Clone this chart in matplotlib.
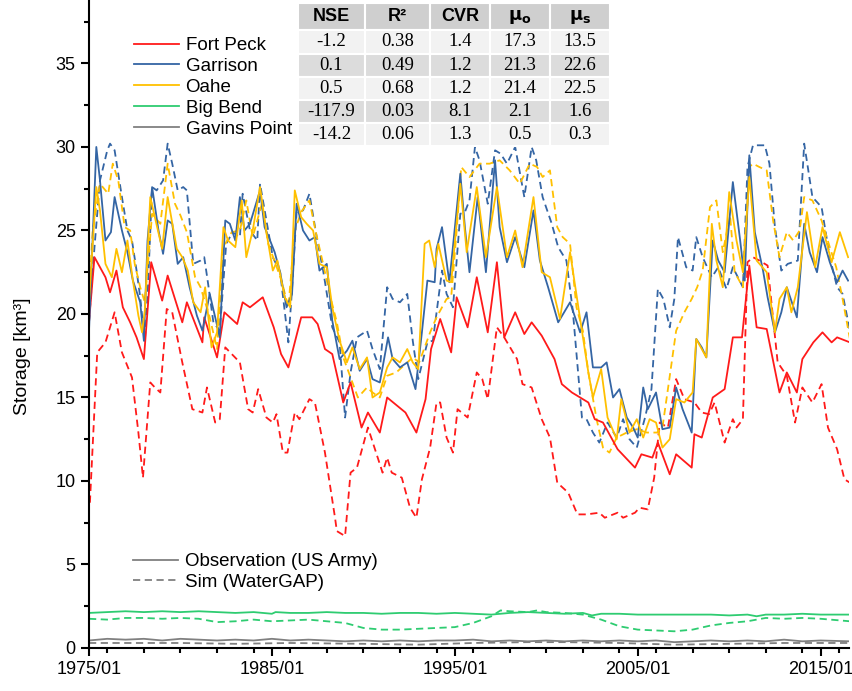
import matplotlib
matplotlib.use('Agg')
import matplotlib.pyplot as plt
from matplotlib.lines import Line2D
from matplotlib.patches import Rectangle
from matplotlib.ticker import MultipleLocator, FixedLocator

plt.rcParams['font.family'] = ['Liberation Sans', 'DejaVu Sans']

# (decimal year, storage km3)
fort_peck_obs = [(1975.0, 19.5), (1975.3, 23.4), (1975.9, 22.2), (1976.15, 21.3), (1976.5, 22.6), (1976.85, 20.4),
                 (1977.25, 19.5), (1977.6, 18.6), (1978.0, 17.3), (1978.4, 23.1), (1979.0, 20.8), (1979.3, 22.3),
                 (1980.1, 19.5), (1980.35, 20.7), (1981.2, 18.3), (1981.3, 19.8), (1982.0, 17.4), (1982.4, 20.1),
                 (1983.1, 19.4), (1983.4, 20.7), (1983.8, 20.4), (1984.5, 21.0), (1985.1, 19.2), (1985.5, 17.6),
                 (1985.9, 16.8), (1986.6, 19.8), (1987.2, 19.8), (1987.5, 19.4), (1987.9, 17.9), (1988.3, 17.6),
                 (1988.9, 14.7), (1989.3, 15.9), (1989.9, 13.2), (1990.25, 14.1), (1990.9, 12.9), (1991.3, 15.0),
                 (1992.3, 14.1), (1992.9, 12.9), (1993.4, 14.9), (1993.7, 17.9), (1994.2, 19.7), (1994.8, 17.7),
                 (1995.1, 21.0), (1995.7, 19.2), (1996.2, 22.2), (1996.8, 18.9), (1997.3, 23.1), (1997.7, 18.6),
                 (1998.3, 20.1), (1998.8, 18.8), (1999.2, 19.5), (1999.75, 18.7), (2000.45, 17.3), (2000.85, 15.8),
                 (2001.4, 15.3), (2002.3, 14.7), (2002.65, 13.7), (2003.1, 13.5), (2003.9, 11.9), (2004.85, 10.8),
                 (2005.2, 11.6), (2005.8, 11.4), (2006.1, 12.3), (2006.75, 10.4), (2007.1, 11.6), (2007.95, 10.8),
                 (2008.1, 12.8), (2008.5, 12.6), (2009.1, 15.0), (2009.75, 15.5), (2010.2, 18.6), (2010.7, 18.6),
                 (2011.1, 22.9), (2011.5, 19.2), (2012.05, 19.1), (2012.75, 15.3), (2013.15, 16.5), (2013.7, 15.3),
                 (2014.0, 17.3), (2014.6, 18.3), (2015.1, 18.9), (2015.6, 18.3), (2015.9, 18.6), (2016.6, 18.3)]
fort_peck_sim = [(1975.05, 8.7), (1975.45, 17.7), (1975.9, 18.3), (1976.4, 20.1), (1976.8, 17.7), (1977.35, 16.2),
                 (1977.7, 12.9), (1977.95, 10.2), (1978.35, 15.9), (1978.6, 15.6), (1978.9, 15.3), (1979.25, 20.3),
                 (1979.55, 20.1), (1980.1, 17.1), (1980.65, 14.3), (1981.2, 14.1), (1981.45, 15.6), (1981.9, 13.5),
                 (1982.15, 13.7), (1982.45, 18.0), (1983.25, 17.1), (1983.7, 14.3), (1983.95, 14.1), (1984.25, 15.5),
                 (1984.7, 13.8), (1985.05, 13.5), (1985.25, 14.0), (1985.6, 11.7), (1985.85, 11.7), (1986.25, 14.1),
                 (1986.5, 13.7), (1987.05, 14.9), (1987.35, 14.7), (1987.9, 11.7), (1988.45, 7.8), (1988.55, 7.0),
                 (1989.0, 6.7), (1989.3, 10.5), (1989.65, 10.8), (1990.25, 13.2), (1991.05, 10.5), (1991.3, 11.4),
                 (1991.55, 10.5), (1992.1, 10.2), (1992.55, 8.4), (1992.9, 7.8), (1993.2, 10.1), (1993.65, 12.0),
                 (1994.0, 14.7), (1994.2, 14.7), (1994.55, 12.6), (1994.9, 11.7), (1995.15, 14.3), (1995.7, 13.8),
                 (1996.2, 16.5), (1996.5, 16.1), (1996.8, 14.9), (1997.3, 19.2), (1997.7, 18.6), (1998.4, 17.3),
                 (1998.7, 15.8), (1999.2, 15.6), (1999.75, 13.7), (2000.2, 12.6), (2000.6, 9.9), (2001.2, 9.3),
                 (2001.7, 8.0), (2002.2, 8.0), (2002.9, 8.1), (2003.2, 7.8), (2003.9, 8.1), (2004.2, 7.8),
                 (2004.85, 8.1), (2005.1, 8.4), (2005.55, 8.3), (2005.9, 10.2), (2006.2, 13.5), (2006.65, 13.2),
                 (2007.1, 16.1), (2007.55, 14.9), (2008.1, 14.7), (2008.5, 14.1), (2008.9, 14.0), (2009.2, 14.7),
                 (2009.75, 12.3), (2010.2, 13.7), (2010.4, 13.2), (2010.75, 13.7), (2011.0, 23.1), (2011.3, 23.4),
                 (2011.65, 23.2), (2012.1, 22.9), (2012.65, 17.1), (2013.15, 16.3), (2013.6, 13.5), (2014.0, 15.6),
                 (2014.55, 14.7), (2015.05, 15.8), (2015.4, 13.2), (2015.9, 11.9), (2016.3, 10.1), (2016.6, 9.9)]

garrison_obs = [(1975.0, 19.0), (1975.4, 30.0), (1975.6, 28.0), (1975.9, 24.4), (1976.2, 24.9), (1976.4, 27.0),
                (1976.8, 25.0), (1977.1, 23.7), (1977.4, 22.0), (1977.8, 20.7), (1978.0, 18.4), (1978.2, 24.4),
                (1978.45, 27.6), (1978.8, 25.0), (1979.05, 23.6), (1979.3, 25.6), (1979.55, 25.4), (1979.85, 23.0),
                (1980.15, 23.4), (1980.5, 21.6), (1980.9, 19.9), (1981.2, 19.0), (1981.6, 21.2), (1981.9, 19.8),
                (1982.15, 18.6), (1982.45, 25.6), (1982.7, 25.4), (1983.0, 24.4), (1983.25, 27.0), (1983.5, 25.0),
                (1983.8, 25.4), (1984.35, 27.4), (1984.6, 25.2), (1984.9, 24.4), (1985.15, 23.7), (1985.45, 22.5),
                (1985.8, 20.4), (1986.1, 21.2), (1986.35, 26.6), (1986.7, 25.0), (1987.05, 24.4), (1987.35, 24.6),
                (1987.6, 22.6), (1988.0, 23.0), (1988.3, 19.6), (1988.7, 17.3), (1989.1, 17.8), (1989.4, 18.4),
                (1989.8, 16.6), (1990.2, 17.3), (1990.5, 16.1), (1990.9, 15.9), (1991.35, 18.6), (1991.6, 17.3),
                (1992.0, 16.8), (1992.4, 17.1), (1992.85, 15.5), (1993.2, 18.9), (1993.5, 22.0), (1993.9, 21.9),
                (1994.0, 23.9), (1994.3, 25.2), (1994.7, 21.9), (1995.3, 28.4), (1995.55, 25.2), (1995.8, 22.5),
                (1996.25, 27.0), (1996.7, 22.5), (1997.2, 29.2), (1997.45, 25.2), (1997.85, 23.1), (1998.3, 24.6),
                (1998.8, 22.8), (1999.3, 26.2), (1999.65, 23.2), (2000.1, 21.6), (2000.65, 19.5), (2001.3, 20.7),
                (2001.85, 18.9), (2002.2, 20.1), (2002.55, 16.8), (2003.0, 16.8), (2003.3, 17.1), (2003.65, 15.0),
                (2004.0, 15.5), (2004.4, 13.8), (2004.75, 13.2), (2005.0, 12.6), (2005.3, 15.6), (2005.55, 14.3),
                (2006.0, 15.3), (2006.35, 13.1), (2006.75, 13.2), (2007.1, 15.6), (2007.45, 14.3), (2007.95, 12.9),
                (2008.2, 18.5), (2008.5, 18.0), (2008.75, 17.4), (2009.1, 24.4), (2009.4, 23.2), (2009.75, 22.5),
                (2010.2, 27.9), (2010.6, 24.4), (2010.85, 22.0), (2011.1, 29.5), (2011.4, 24.9), (2011.85, 22.6),
                (2012.1, 21.0), (2012.5, 18.9), (2012.85, 20.1), (2013.15, 21.6), (2013.7, 19.8), (2014.1, 25.4),
                (2014.4, 23.7), (2014.8, 22.5), (2015.1, 24.6), (2015.5, 23.1), (2015.9, 21.9), (2016.2, 22.6),
                (2016.5, 22.0)]
garrison_sim = [(1975.0, 19.5), (1975.3, 24.0), (1975.6, 28.0), (1976.0, 29.8), (1976.15, 30.2), (1976.4, 29.8),
                (1976.8, 27.0), (1977.1, 25.0), (1977.35, 24.4), (1977.6, 22.6), (1977.8, 21.0), (1978.05, 18.3),
                (1978.2, 21.0), (1978.45, 27.6), (1978.7, 27.4), (1979.05, 28.0), (1979.3, 30.2), (1979.55, 29.0),
                (1979.85, 27.4), (1980.15, 27.6), (1980.35, 27.4), (1980.7, 23.0), (1981.1, 23.2), (1981.3, 23.4),
                (1981.5, 21.9), (1981.8, 19.5), (1982.15, 19.0), (1982.5, 24.2), (1982.85, 24.9), (1983.25, 24.6),
                (1983.4, 27.2), (1983.8, 25.0), (1984.2, 24.4), (1984.35, 27.8), (1984.7, 25.6), (1985.05, 23.4),
                (1985.45, 22.5), (1985.9, 18.3), (1986.1, 21.5), (1986.35, 26.1), (1986.7, 26.2), (1987.05, 27.2),
                (1987.45, 24.6), (1987.8, 22.6), (1988.3, 19.2), (1988.7, 18.3), (1989.0, 13.8), (1989.3, 16.5),
                (1989.65, 18.6), (1990.2, 19.0), (1990.5, 17.9), (1990.9, 16.7), (1991.3, 21.6), (1991.6, 20.9),
                (1992.0, 20.7), (1992.4, 21.2), (1992.7, 18.4), (1993.0, 16.1), (1993.5, 18.3), (1993.8, 18.4),
                (1994.3, 22.6), (1994.55, 21.2), (1994.9, 20.4), (1995.3, 26.0), (1995.55, 26.1), (1995.8, 26.8),
                (1996.1, 30.0), (1996.35, 29.2), (1996.8, 26.6), (1997.2, 29.8), (1997.5, 29.6), (1997.85, 29.0),
                (1998.3, 30.0), (1998.8, 27.0), (1999.2, 30.0), (1999.45, 29.2), (1999.8, 27.0), (2000.3, 25.4),
                (2000.65, 24.0), (2001.1, 23.2), (2001.45, 20.2), (2001.95, 13.8), (2002.2, 13.7), (2002.55, 12.9),
                (2002.9, 12.3), (2003.35, 13.5), (2003.85, 12.6), (2004.2, 13.7), (2004.55, 12.5), (2004.95, 12.0),
                (2005.4, 13.8), (2005.75, 15.5), (2006.1, 21.5), (2006.4, 20.9), (2006.75, 19.2), (2007.0, 20.9),
                (2007.2, 24.6), (2007.65, 22.8), (2008.0, 22.6), (2008.2, 24.6), (2008.55, 23.4), (2009.05, 22.2),
                (2009.4, 22.8), (2009.85, 21.5), (2010.2, 22.8), (2010.75, 21.6), (2011.0, 28.8), (2011.3, 30.1),
                (2011.95, 30.1), (2012.2, 29.0), (2012.5, 25.2), (2012.85, 22.6), (2013.2, 23.0), (2013.75, 23.2),
                (2014.1, 30.2), (2014.55, 27.0), (2015.05, 26.4), (2015.5, 23.4), (2015.9, 21.6), (2016.2, 21.2),
                (2016.6, 19.0)]

oahe_obs = [(1975.0, 20.7), (1975.4, 27.6), (1975.6, 26.2), (1975.9, 23.0), (1976.25, 22.2), (1976.5, 23.9),
            (1976.8, 22.5), (1977.1, 24.4), (1977.4, 22.0), (1977.7, 19.9), (1977.9, 18.9), (1978.05, 20.2),
            (1978.35, 27.0), (1978.6, 25.8), (1979.0, 23.9), (1979.3, 27.0), (1979.8, 23.9), (1980.1, 23.4),
            (1980.4, 22.6), (1980.7, 20.7), (1981.1, 20.1), (1981.35, 21.6), (1981.7, 18.0), (1982.0, 18.9),
            (1982.35, 25.2), (1982.6, 24.4), (1983.0, 24.0), (1983.35, 26.8), (1983.6, 23.4), (1983.95, 25.0),
            (1984.35, 27.6), (1984.7, 24.9), (1985.05, 22.6), (1985.3, 23.2), (1985.7, 21.0), (1986.0, 20.4),
            (1986.25, 27.4), (1986.6, 25.8), (1986.9, 25.4), (1987.25, 25.0), (1987.6, 23.0), (1988.0, 22.8),
            (1988.3, 20.4), (1988.7, 18.4), (1989.1, 17.1), (1989.4, 18.0), (1989.8, 16.7), (1990.2, 17.4),
            (1990.5, 15.0), (1990.9, 15.3), (1991.3, 16.8), (1991.6, 17.4), (1992.0, 17.1), (1992.4, 17.9),
            (1992.7, 17.1), (1993.0, 16.7), (1993.35, 24.2), (1993.6, 24.4), (1993.9, 22.8), (1994.1, 24.2),
            (1994.55, 22.0), (1994.8, 21.9), (1995.3, 27.8), (1995.65, 23.7), (1996.2, 27.6), (1996.7, 23.4),
            (1997.3, 27.6), (1997.85, 23.4), (1998.3, 25.0), (1998.7, 22.8), (1999.3, 27.0), (1999.75, 22.5),
            (2000.2, 22.2), (2000.75, 19.7), (2001.3, 23.7), (2001.85, 19.7), (2002.3, 16.5), (2002.55, 15.0),
            (2003.0, 16.7), (2003.35, 13.8), (2003.85, 12.5), (2004.1, 14.9), (2004.55, 12.9), (2004.95, 13.7),
            (2005.3, 12.6), (2005.65, 13.7), (2006.0, 13.5), (2006.35, 12.0), (2006.75, 12.5), (2007.1, 14.9),
            (2007.55, 14.7), (2008.0, 15.3), (2008.2, 18.5), (2008.75, 17.4), (2009.05, 25.4), (2009.3, 23.2),
            (2009.65, 21.6), (2010.0, 27.3), (2010.4, 24.4), (2010.75, 22.5), (2011.1, 28.2), (2011.5, 23.2),
            (2012.05, 22.5), (2012.5, 18.9), (2012.75, 20.9), (2013.15, 21.6), (2013.4, 20.1), (2013.75, 21.6),
            (2014.25, 26.1), (2014.7, 22.8), (2015.1, 25.2), (2015.6, 23.1), (2016.05, 24.9), (2016.5, 23.4)]
oahe_sim = [(1975.0, 21.0), (1975.2, 25.0), (1975.6, 27.8), (1976.05, 27.2), (1976.3, 29.0), (1976.6, 28.0),
            (1976.95, 25.2), (1977.25, 25.0), (1977.5, 23.0), (1977.8, 21.6), (1978.05, 20.7), (1978.45, 26.0),
            (1978.9, 25.4), (1979.3, 29.0), (1979.7, 26.6), (1980.0, 25.9), (1980.35, 24.9), (1980.8, 22.2),
            (1981.1, 21.6), (1981.6, 19.8), (1982.0, 17.9), (1982.35, 24.0), (1982.8, 24.9), (1983.25, 25.0),
            (1983.6, 26.8), (1983.95, 24.6), (1984.45, 26.6), (1984.8, 24.2), (1985.2, 23.0), (1985.55, 21.9),
            (1985.9, 20.4), (1986.25, 25.0), (1986.6, 26.1), (1987.05, 26.8), (1987.4, 24.9), (1987.8, 23.0),
            (1988.2, 21.0), (1988.55, 19.5), (1988.9, 17.4), (1989.4, 15.9), (1989.7, 15.0), (1990.2, 15.6),
            (1990.5, 15.3), (1990.9, 15.0), (1991.3, 16.3), (1991.8, 16.5), (1992.4, 17.1), (1992.7, 17.4),
            (1993.05, 17.1), (1993.65, 18.9), (1994.0, 19.8), (1994.55, 20.9), (1994.8, 21.0), (1995.1, 25.0),
            (1995.35, 28.8), (1995.8, 28.2), (1996.35, 29.0), (1996.9, 29.0), (1997.45, 29.2), (1998.0, 28.6),
            (1998.55, 27.8), (1999.1, 29.0), (1999.5, 28.8), (1999.8, 28.2), (2000.2, 28.6), (2000.6, 25.2),
            (2000.9, 24.6), (2001.3, 24.2), (2001.65, 20.4), (2002.0, 19.0), (2002.3, 16.5), (2002.75, 13.7),
            (2003.1, 12.0), (2003.45, 11.7), (2003.85, 12.6), (2004.4, 12.9), (2004.95, 13.1), (2005.5, 12.9),
            (2006.05, 12.9), (2006.35, 13.2), (2006.65, 15.5), (2007.1, 19.0), (2007.55, 20.1), (2007.95, 20.9),
            (2008.25, 21.6), (2008.55, 22.6), (2008.95, 26.4), (2009.3, 26.8), (2009.65, 23.7), (2010.05, 25.9),
            (2010.3, 22.5), (2010.75, 21.6), (2011.1, 28.8), (2011.3, 29.0), (2011.65, 28.8), (2012.05, 28.6),
            (2012.4, 25.6), (2012.75, 23.4), (2013.15, 24.9), (2013.5, 24.4), (2013.85, 25.0), (2014.1, 27.0),
            (2014.55, 26.8), (2015.05, 25.6), (2015.5, 24.0), (2015.85, 22.8), (2016.2, 20.9), (2016.6, 18.5)]

big_bend_obs = [(1975, 2.1), (1976, 2.15), (1977, 2.2), (1978, 2.15), (1979, 2.2), (1980, 2.15), (1981, 2.2),
                (1982, 2.15), (1983, 2.1), (1984, 2.15), (1985, 2.05), (1985.2, 2.15), (1986, 2.1), (1987, 2.1),
                (1988, 2.15), (1989, 2.1), (1990, 2.1), (1991, 2.05), (1992, 2.1), (1993, 2.1), (1994, 2.05),
                (1995, 2.1), (1996, 2.05), (1997, 2.0), (1998, 2.1), (1999, 2.15), (2000, 2.1), (2001, 2.05),
                (2002, 2.1), (2002.5, 1.95), (2003, 2.05), (2004, 2.05), (2005, 2.0), (2006, 2.0), (2007, 2.0),
                (2008, 2.0), (2009, 2.0), (2010, 1.95), (2011, 2.0), (2011.5, 1.9), (2012, 2.0), (2013, 2.0),
                (2014, 2.05), (2015, 2.0), (2016.6, 2.0)]
big_bend_sim = [(1975, 1.75), (1976, 1.7), (1977, 1.8), (1978, 1.8), (1979, 1.75), (1980, 1.8), (1981, 1.75),
                (1982, 1.55), (1983, 1.6), (1984, 1.7), (1985, 1.6), (1986, 1.65), (1987, 1.7), (1988, 1.6),
                (1989, 1.5), (1990, 1.2), (1991, 1.1), (1992, 1.1), (1993, 1.15), (1994, 1.2), (1995, 1.25),
                (1996, 1.5), (1997, 1.9), (1997.5, 2.25), (1998, 2.2), (1999, 2.15), (1999.5, 2.25), (2000, 2.15),
                (2001, 2.1), (2002, 2.0), (2003, 1.7), (2004, 1.3), (2005, 1.1), (2006, 1.05), (2007, 1.0),
                (2008, 1.1), (2009, 1.35), (2010, 1.5), (2011, 1.6), (2012, 1.8), (2013, 1.75), (2014, 1.8),
                (2015, 1.75), (2016.6, 1.6)]

gavins_obs = [(1975, 0.45), (1976, 0.55), (1977, 0.5), (1978, 0.55), (1979, 0.45), (1980, 0.55), (1981, 0.5),
              (1982, 0.45), (1983, 0.5), (1984, 0.45), (1985, 0.55), (1986, 0.45), (1987, 0.5), (1988, 0.45),
              (1989, 0.4), (1990, 0.45), (1991, 0.4), (1992, 0.45), (1993, 0.4), (1994, 0.45), (1995, 0.45),
              (1996, 0.5), (1997, 0.4), (1998, 0.45), (1999, 0.4), (2000, 0.45), (2001, 0.4), (2002, 0.45),
              (2003, 0.4), (2004, 0.45), (2005, 0.4), (2006, 0.45), (2007, 0.35), (2008, 0.4), (2009, 0.45),
              (2010, 0.4), (2011, 0.45), (2012, 0.4), (2013, 0.5), (2014, 0.4), (2015, 0.45), (2016.6, 0.4)]
gavins_sim = [(1975, 0.3), (1978, 0.3), (1980, 0.3), (1983, 0.25), (1986, 0.3), (1990, 0.25), (1993, 0.2),
              (1996, 0.3), (1999, 0.35), (2001, 0.35), (2004, 0.3), (2007, 0.2), (2010, 0.25), (2013, 0.3),
              (2016.6, 0.3)]

sites = ['Fort Peck', 'Garrison', 'Oahe', 'Big Bend', 'Gavins Point']
colors = ['#ff1a1a', '#3465a4', '#ffc000', '#2ecc71', '#808080']
obs_series = [fort_peck_obs, garrison_obs, oahe_obs, big_bend_obs, gavins_obs]
sim_series = [fort_peck_sim, garrison_sim, oahe_sim, big_bend_sim, gavins_sim]

# statistics table
stat_cols = ['NSE', 'R²', 'CVR', r'$\mathbf{\mu_o}$', r'$\mathbf{\mu_s}$']
stat_rows = [['-1.2', '0.38', '1.4', '17.3', '13.5'],
             ['0.1', '0.49', '1.2', '21.3', '22.6'],
             ['0.5', '0.68', '1.2', '21.4', '22.5'],
             ['-117.9', '0.03', '8.1', '2.1', '1.6'],
             ['-14.2', '0.06', '1.3', '0.5', '0.3']]

W, H = 853, 691
fig = plt.figure(figsize=(W / 100, H / 100), dpi=100)
ax = fig.add_axes([89 / W, 1 - 648 / H, (849 - 89) / W, 648 / H])

dash = (0, (4, 2.5))
for c, sim in zip(colors, sim_series):
    xs, ys = zip(*sim)
    ax.plot(xs, ys, color=c, lw=1.3, linestyle=dash)
for c, obs in zip(colors, obs_series):
    xs, ys = zip(*obs)
    ax.plot(xs, ys, color=c, lw=1.3)

ax.set_xlim(1975, 2016.55)
ax.set_ylim(0, 38.8)
ax.xaxis.set_major_locator(FixedLocator([1975, 1985, 1995, 2005, 2015]))
ax.set_xticklabels(['1975/01', '1985/01', '1995/01', '2005/01', '2015/01'])
ax.xaxis.set_minor_locator(MultipleLocator(2))
ax.yaxis.set_major_locator(FixedLocator([0, 5, 10, 15, 20, 25, 30, 35]))
ax.yaxis.set_minor_locator(MultipleLocator(2.5))
ax.tick_params(which='major', direction='out', length=6, width=1.5, labelsize=13, colors='black')
ax.tick_params(which='minor', direction='out', length=3.5, width=1.5)
for s in ['top', 'right']:
    ax.spines[s].set_visible(False)
for s in ['left', 'bottom']:
    ax.spines[s].set_linewidth(1.5)
ax.set_ylabel('Storage [km³]', fontsize=14)
ax.yaxis.set_label_coords(-0.076, 0.45)

# site legend
site_handles = [Line2D([], [], color=c, lw=1.3) for c in colors]
leg1 = ax.legend(site_handles, sites, loc='upper left', bbox_to_anchor=(134 / W, 1 - 37 / H),
                 bbox_transform=fig.transFigure, frameon=False, fontsize=13.5, handlelength=2.4,
                 handletextpad=0.35, labelspacing=0.2, borderpad=0, borderaxespad=0)
ax.add_artist(leg1)

# line style legend
style_handles = [Line2D([], [], color='#808080', lw=1.3),
                 Line2D([], [], color='#808080', lw=1.3, linestyle=dash)]
ax.legend(style_handles, ['Observation (US Army)', 'Sim (WaterGAP)'], loc='upper left',
          bbox_to_anchor=(133 / W, 1 - 553 / H), bbox_transform=fig.transFigure, frameon=False,
          fontsize=13.5, handlelength=2.4, handletextpad=0.35, labelspacing=0.2, borderpad=0,
          borderaxespad=0)

# table drawn in pixel coordinates
col_edges = [298, 365, 430, 490, 550, 610]
row_edges = [3, 30, 54, 77, 100, 123, 146]
row_fill = ['#cfcfcf', '#f2f2f2', '#dcdcdc', '#f2f2f2', '#dcdcdc', '#f2f2f2']
for r in range(6):
    y0, y1 = row_edges[r], row_edges[r + 1]
    for c in range(5):
        x0, x1 = col_edges[c], col_edges[c + 1]
        fig.patches.append(Rectangle((x0 / W, 1 - y1 / H), (x1 - x0) / W, (y1 - y0) / H,
                                     transform=fig.transFigure, facecolor=row_fill[r],
                                     edgecolor='white', lw=1.5, zorder=5))
        cx, cy = (x0 + x1) / 2 / W, 1 - (y0 + y1) / 2 / H
        if r == 0:
            fig.text(cx, cy, stat_cols[c], ha='center', va='center', fontsize=13,
                     fontweight='bold', family=['Liberation Sans', 'DejaVu Sans'], zorder=6)
        else:
            fig.text(cx, cy, stat_rows[r - 1][c], ha='center', va='center', fontsize=13.5,
                     family=['Liberation Serif', 'DejaVu Serif'], zorder=6)

fig.savefig('out.png', dpi=100)
